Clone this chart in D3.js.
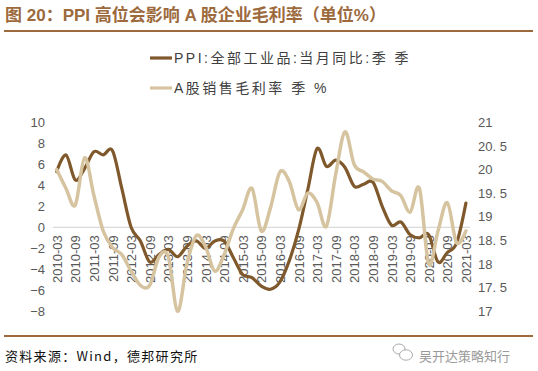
<!DOCTYPE html>
<html><head><meta charset="utf-8">
<script src="https://cdn.jsdelivr.net/npm/d3@7"></script>
<style>body{margin:0;background:#fff}svg{display:block}</style>
</head><body>
<svg id="c" width="538" height="371"></svg>
<script>
const quarters = ["2010-03","2010-06","2010-09","2010-12","2011-03","2011-06","2011-09","2011-12",
"2012-03","2012-06","2012-09","2012-12","2013-03","2013-06","2013-09","2013-12",
"2014-03","2014-06","2014-09","2014-12","2015-03","2015-06","2015-09","2015-12",
"2016-03","2016-06","2016-09","2016-12","2017-03","2017-06","2017-09","2017-12",
"2018-03","2018-06","2018-09","2018-12","2019-03","2019-06","2019-09","2019-12",
"2020-03","2020-06","2020-09","2020-12","2021-03"];
const xTickLabels = ["2010-03","2010-09","2011-03","2011-09","2012-03","2012-09","2013-03","2013-09",
"2014-03","2014-09","2015-03","2015-09","2016-03","2016-09","2017-03","2017-09",
"2018-03","2018-09","2019-03","2019-09","2020-03","2020-09","2021-03"];
const leftTicks = [10,8,6,4,2,0,-2,-4,-6,-8];
const leftTickLabels = ["10","8","6","4","2","0","\u22122","\u22124","\u22126","\u22128"];
const rightTicks = [21,20.5,20,19.5,19,18.5,18,17.5,17];
const rightTickLabels = ["21","20. 5","20","19. 5","19","18. 5","18","17. 5","17"];
const ppi = [5.3,6.9,4.5,5.6,7.2,6.9,7.3,3.7,0.0,-1.3,-3.3,-2.6,-2.1,-2.8,-1.8,-1.3,
-2.0,-1.3,-1.3,-2.9,-4.5,-4.8,-5.6,-5.9,-5.2,-3.2,-0.3,3.6,7.5,5.8,6.4,5.7,
3.9,4.1,4.3,2.0,0.2,0.5,-0.7,-1.0,-0.7,-3.3,-2.4,-1.5,2.3];
const grossMargin = [20.0,19.6,19.25,20.25,19.45,18.7,18.35,18.2,17.85,17.55,17.55,18.15,18.15,17.0,18.0,18.6,
18.37,17.85,18.2,18.75,19.15,19.6,18.7,19.2,19.95,19.75,19.15,19.5,19.3,18.8,19.9,20.8,
20.1,19.95,19.8,19.75,19.55,19.45,19.1,19.6,18.0,18.7,19.3,18.45,18.7];
const seriesNames = ["PPI:全部工业品:当月同比:季 季","A股销售毛利率 季 %"];
const titleText = "图 20：PPI 高位会影响 A 股企业毛利率（单位%）";
const sourceText = "资料来源：Wind，德邦研究所";
const watermarkText = "吴开达策略知行";

const colDark = "#7F582C", colLight = "#D6C4A0", brand = "#9C6A3C";
const svg = d3.select("#c");
const latin = "'Liberation Sans', Arial, 'Noto Sans CJK SC', sans-serif";

// title & rules
svg.append("text").attr("x",5).attr("y",21).attr("fill",brand)
  .attr("font-family",latin).attr("font-weight","bold").attr("font-size",17).text(titleText);
svg.append("line").attr("x1",4).attr("x2",533).attr("y1",31).attr("y2",31)
  .attr("stroke",brand).attr("stroke-width",2);
svg.append("line").attr("x1",4).attr("x2",533).attr("y1",336).attr("y2",336)
  .attr("stroke",brand).attr("stroke-width",2);
svg.append("text").attr("x",5).attr("y",361).attr("fill","#111")
  .attr("font-family","'Noto Sans CJK SC', 'Liberation Sans', sans-serif").attr("font-size",13)
  .attr("letter-spacing",1.3).text(sourceText);
// watermark
const wm = svg.append("g").attr("stroke","#aaa").attr("fill","none").attr("stroke-width",1);
wm.append("ellipse").attr("cx",399).attr("cy",349).attr("rx",6).attr("ry",5);
wm.append("ellipse").attr("cx",406).attr("cy",355).attr("rx",6.5).attr("ry",5.2).attr("fill","#fff");
svg.append("text").attr("x",419).attr("y",361).attr("fill","#999")
  .attr("font-family","'Noto Sans CJK SC', sans-serif").attr("font-size",13).text(watermarkText);

// scales
const x = d3.scalePoint().domain(quarters).range([56.7, 465.9]);
const yL = d3.scaleLinear().domain([-8,10]).range([311.3,122.3]);
const yR = d3.scaleLinear().domain([17,21]).range([311.3,122.3]);

// zero line
svg.append("line").attr("x1",53).attr("x2",470).attr("y1",yL(0)).attr("y2",yL(0))
  .attr("stroke","#d9d9d9").attr("stroke-width",1.2);

// left axis
const gL = svg.append("g").attr("transform","translate(48,0)")
  .call(d3.axisLeft(yL).tickValues(leftTicks).tickFormat((d,i)=>leftTickLabels[i]).tickSize(0).tickPadding(3));
gL.select(".domain").remove();
gL.selectAll("text").attr("font-family",latin).attr("font-size",13).attr("fill","#595959");

// right axis
const gR = svg.append("g").attr("transform","translate(475,0)")
  .call(d3.axisRight(yR).tickValues(rightTicks).tickFormat((d,i)=>rightTickLabels[i]).tickSize(0).tickPadding(3));
gR.select(".domain").remove();
gR.selectAll("text").attr("font-family",latin).attr("font-size",13).attr("fill","#595959");

// x axis
const gX = svg.append("g").attr("transform",`translate(0,${yL(0)})`)
  .call(d3.axisBottom(x).tickValues(xTickLabels).tickSize(0));
gX.select(".domain").remove();
gX.selectAll("text").attr("transform","rotate(-90)").attr("text-anchor","end")
  .attr("x",-8).attr("y",0).attr("dy","0.35em")
  .attr("font-family",latin).attr("font-size",13).attr("fill","#595959");

// lines
const curve = d3.curveCardinal.tension(0);
const lineL = d3.line().x((d,i)=>x(quarters[i])).y(d=>yL(d)).curve(curve);
const lineR = d3.line().x((d,i)=>x(quarters[i])).y(d=>yR(d)).curve(curve);
svg.append("path").attr("d",lineL(ppi)).attr("fill","none").attr("stroke",colDark)
  .attr("stroke-width",3.2).attr("stroke-linejoin","round").attr("stroke-linecap","round");
svg.append("path").attr("d",lineR(grossMargin)).attr("fill","none").attr("stroke",colLight)
  .attr("stroke-width",3.5).attr("stroke-linejoin","round").attr("stroke-linecap","round");

// legend
const lg = svg.append("g");
[[colDark,58],[colLight,88]].forEach(([c,y],i)=>{
  lg.append("line").attr("x1",150).attr("x2",172).attr("y1",y).attr("y2",y)
    .attr("stroke",c).attr("stroke-width",3.2);
  lg.append("text").attr("x",174).attr("y",y+5).attr("fill","#404040")
    .attr("font-family",latin).attr("font-size",14).attr("letter-spacing",2.5).text(seriesNames[i]);
});
</script>
</body></html>
